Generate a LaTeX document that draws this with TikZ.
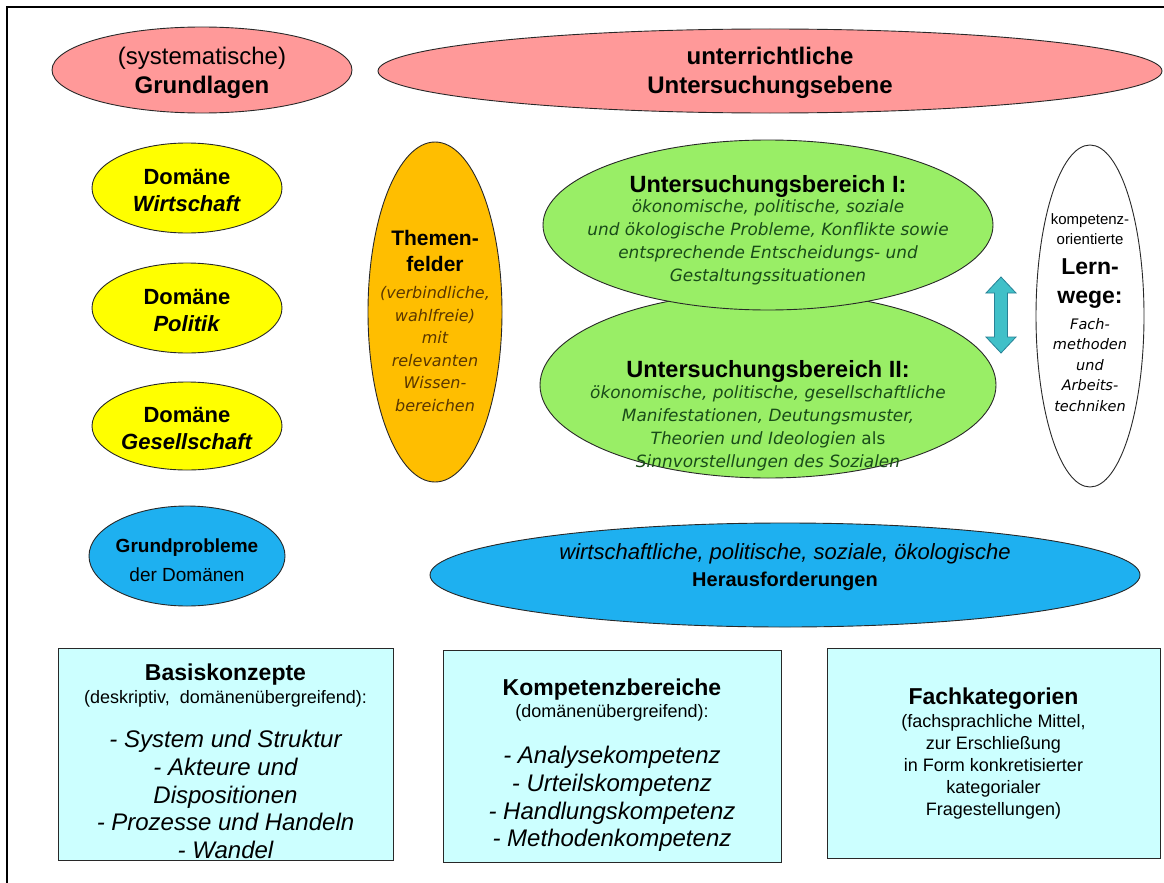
\documentclass[tikz,border=0pt]{standalone}
\usepackage{fontspec}
\setmainfont{Liberation Sans}
\newfontfamily\verd{DejaVu Sans}
\newfontfamily\cond[FakeStretch=0.86]{Liberation Sans}
\usetikzlibrary{shapes.geometric}
\definecolor{pinkF}{RGB}{255,153,153}
\definecolor{yelF}{RGB}{255,255,0}
\definecolor{oraF}{RGB}{255,190,0}
\definecolor{greF}{RGB}{153,238,102}
\definecolor{bluF}{RGB}{30,176,240}
\definecolor{boxF}{RGB}{204,255,255}
\definecolor{arrF}{RGB}{64,192,200}
\definecolor{arrD}{RGB}{40,130,150}
\definecolor{greT}{RGB}{25,75,25}
\definecolor{oraT}{RGB}{90,55,0}
\definecolor{edge}{RGB}{40,40,40}
\newcommand{\myfs}[2]{\fontsize{#1}{#2}\selectfont}
\begin{document}
\begin{tikzpicture}[x=1pt,y=-1pt,
  ell/.style={ellipse, draw=edge, line width=0.9pt, inner sep=0pt},
  txt/.style={align=center, inner sep=0pt},
  boxsty/.style={draw=edge, fill=boxF, line width=1pt, inner sep=0pt, anchor=north west}]
\useasboundingbox (0,0) rectangle (1164,883);
\fill[white] (0,0) rectangle (1164,883);
% frame
\draw[line width=2pt] (1164,7) -- (7,7) -- (7,883);

% top row
\node[ell, fill=pinkF, minimum width=300, minimum height=86] (grund) at (202,70) {};
\node[txt, font=\myfs{24}{29}] (grundt) at (202,73) {(systematische)\\\textbf{Grundlagen}};
\node[ell, fill=pinkF, minimum width=784, minimum height=84] (unter) at (770,71) {};
\node[txt, font=\bfseries\myfs{24}{29}] (untert) at (770,73) {unterrichtliche\\Untersuchungsebene};

% domains
\node[ell, fill=yelF, minimum width=190, minimum height=90] (wirt) at (187,188) {};
\node[txt, font=\bfseries\myfs{22}{27}] (wirtt) at (187,190) {Domäne\\\textit{Wirtschaft}};
\node[ell, fill=yelF, minimum width=190, minimum height=90] (poli) at (187,308) {};
\node[txt, font=\bfseries\myfs{22}{27}] (polit) at (187,310) {Domäne\\\textit{Politik}};
\node[ell, fill=yelF, minimum width=190, minimum height=88] (gese) at (187,426) {};
\node[txt, font=\bfseries\myfs{22}{27}] (geset) at (187,428) {Domäne\\\textit{Gesellschaft}};

% Themenfelder
\node[ell, fill=oraF, minimum width=134, minimum height=340] (them) at (435,312) {};
\node[txt, font=\bfseries\myfs{21}{26}] (themt) at (435,251) {Themen-\\felder};
\node[txt, font=\verd\itshape\myfs{16}{22.5}, text=oraT] (themb) at (435,349) {(verbindliche,\\wahlfreie)\\mit\\relevanten\\Wissen-\\bereichen};

% Untersuchungsbereiche
\node[ell, fill=greF, minimum width=456, minimum height=186] (ub2) at (768,385) {};
\node[ell, fill=greF, minimum width=450, minimum height=170] (ub1) at (768,225) {};
\node[txt, font=\bfseries\myfs{23.5}{26}] (ub1t) at (768,186) {Untersuchungsbereich I:};
\node[txt, font=\verd\itshape\myfs{16.9}{23}, text=greT] (ub1b) at (768,242) {ökonomische, politische, soziale\\und ökologische Probleme, Konflikte sowie\\entsprechende Entscheidungs- und\\Gestaltungssituationen};
\node[txt, font=\bfseries\myfs{23.5}{26}] (ub2t) at (768,371) {Untersuchungsbereich II:};
\node[txt, font=\verd\itshape\myfs{16.9}{23}, text=greT] (ub2b) at (768,428) {ökonomische, politische, gesellschaftliche\\Manifestationen, Deutungsmuster,\\Theorien und Ideologien {\upshape als}\\Sinnvorstellungen des Sozialen};

% double arrow between the two areas
\coordinate (arr) at (1001,315);
\draw[fill=arrF, draw=arrD, line width=0.8pt, line join=miter]
  ([shift={(0,-38)}]arr) -- ([shift={(15,-22)}]arr) -- ([shift={(6.5,-22)}]arr)
  -- ([shift={(6.5,22)}]arr) -- ([shift={(15,22)}]arr) -- ([shift={(0,38)}]arr)
  -- ([shift={(-15,22)}]arr) -- ([shift={(-6.5,22)}]arr) -- ([shift={(-6.5,-22)}]arr)
  -- ([shift={(-15,-22)}]arr) -- cycle;

% Lernwege
\node[ell, fill=white, minimum width=108, minimum height=342] (lern) at (1090,316) {};
\node[txt, font=\myfs{15}{20}] (lernt) at (1090,229) {kompetenz-\\orientierte};
\node[txt, font=\bfseries\myfs{23}{29}] (lernh) at (1090,284) {Lern-\\wege:};
\node[txt, font=\verd\itshape\myfs{14.5}{20.5}] (lernb) at (1090,365) {Fach-\\methoden\\und\\Arbeits-\\techniken};

% Grundprobleme / Herausforderungen
\node[ell, fill=bluF, minimum width=196, minimum height=100] (grpr) at (187,556) {};
\node[txt, font=\myfs{19}{29}] (grprt) at (187,560) {\textbf{Grundprobleme}\\der Domänen};
\node[ell, fill=bluF, minimum width=710, minimum height=104] (hera) at (785,575) {};
\node[txt, font=\myfs{22}{27}] (herat) at (785,567) {\textit{wirtschaftliche, politische, soziale, ökologische}\\{\fontsize{20}{27}\selectfont\textbf{Herausforderungen}}};

% boxes
\node[boxsty, minimum width=335, minimum height=212] (basis) at (58,648) {};
\node[txt, font=\myfs{23}{23}, anchor=north] (basist) at (225.5,664) {\textbf{Basiskonzepte}\\{\myfs{18}{23}(deskriptiv,\ \ domänenübergreifend):}};
\node[txt, font=\itshape\myfs{24}{27.7}, anchor=north] (basisb) at (225.5,730) {- System und Struktur\\- Akteure und\\Dispositionen\\- Prozesse und Handeln\\- Wandel};

\node[boxsty, minimum width=338, minimum height=212] (komp) at (443,650) {};
\node[txt, font=\myfs{23}{22}, anchor=north] (kompt) at (612,679) {\textbf{Kompetenzbereiche}\\{\myfs{18}{22}(domänenübergreifend):}};
\node[txt, font=\itshape\myfs{24}{27.7}, anchor=north] (kompb) at (612,746) {- Analysekompetenz\\- Urteilskompetenz\\- Handlungskompetenz\\- Methodenkompetenz};

\node[boxsty, minimum width=333, minimum height=210] (fach) at (827,648) {};
\node[txt, font=\bfseries\myfs{23}{24}, anchor=north] (facht) at (993.5,688) {Fachkategorien};
\node[txt, font=\myfs{18}{22}, anchor=north] (fachb) at (993.5,714) {(fachsprachliche Mittel,\\zur Erschließung\\in Form konkretisierter\\kategorialer\\Fragestellungen)};
\end{tikzpicture}
\end{document}
